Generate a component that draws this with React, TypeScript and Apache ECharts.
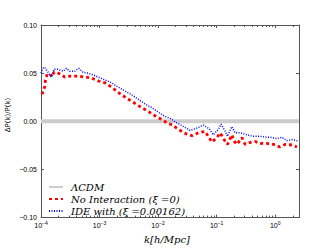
import React, { useEffect, useRef } from "react";
import * as echarts from "echarts";

const redK = [1.04e-4, 1.16e-4, 1.19e-4, 1.28e-4, 1.43e-4, 1.54e-4, 1.67e-4, 1.95e-4, 2.17e-4, 2.54e-4, 3.22e-4, 4.18e-4, 5.58e-4, 7.24e-4, 9.42e-4, 1.23e-3, 1.55e-3, 1.91e-3, 2.3e-3, 2.92e-3, 3.7e-3, 4.68e-3, 5.83e-3, 7.3e-3, 9.24e-3, 1.16e-2, 1.41e-2, 1.78e-2, 2.07e-2, 2.38e-2, 3.01e-2, 3.77e-2, 4.89e-2, 6.36e-2, 7.24e-2, 8.28e-2, 0.101, 0.115, 0.134, 0.153, 0.182, 0.199, 0.221, 0.27, 0.307, 0.374, 0.455, 0.555, 0.721, 0.936, 1.19, 1.48, 1.93, 2.35];
const redV = [0.028, 0.036, 0.043, 0.049, 0.049, 0.046, 0.051, 0.05, 0.049, 0.046, 0.047, 0.047, 0.046, 0.045, 0.042, 0.04, 0.036, 0.032, 0.028, 0.024, 0.02, 0.016, 0.0126, 0.009, 0.005, 0.0018, -0.0015, -0.004, -0.007, -0.0095, -0.013, -0.015, -0.012, -0.0105, -0.016, -0.0216, -0.017, -0.012, -0.019, -0.024, -0.014, -0.0206, -0.024, -0.017, -0.024, -0.022, -0.021, -0.023, -0.023, -0.024, -0.0266, -0.024, -0.0246, -0.0266];

const blueK = [1.0e-4, 1.08e-4, 1.16e-4, 1.32e-4, 1.5e-4, 1.67e-4, 1.95e-4, 2.38e-4, 2.71e-4, 3.1e-4, 3.77e-4, 4.41e-4, 5.22e-4, 7.24e-4, 9.42e-4, 1.23e-3, 1.59e-3, 2.01e-3, 2.62e-3, 3.45e-3, 4.55e-3, 6.0e-3, 7.89e-3, 1.04e-2, 1.32e-2, 1.6e-2, 2.09e-2, 2.71e-2, 3.52e-2, 4.59e-2, 5.95e-2, 7.53e-2, 8.81e-2, 0.105, 0.119, 0.14, 0.153, 0.182, 0.207, 0.252, 0.328, 0.426, 0.555, 0.721, 0.822, 1.07, 1.3, 1.58, 1.93, 2.5];
const blueV = [0.05, 0.055, 0.056, 0.051, 0.046, 0.054, 0.054, 0.052, 0.055, 0.052, 0.052, 0.055, 0.051, 0.049, 0.046, 0.043, 0.04, 0.036, 0.032, 0.028, 0.023, 0.018, 0.014, 0.009, 0.005, 0.003, -0.0015, -0.0055, -0.0095, -0.007, -0.004, -0.008, -0.014, -0.009, -0.003, -0.0105, -0.0156, -0.0055, -0.012, -0.012, -0.014, -0.0156, -0.0156, -0.0166, -0.0166, -0.018, -0.0166, -0.02, -0.019, -0.0206];

const lcdmK = [1e-4, 2.55];
const lcdmV = [0, 0];

const seriesNames = ["ΛCDM", "No Interaction (ξ =0)", "IDE with (ξ =0.00162)"];
const yAxisTitle = "ΔP(k)/P(k)";
const xMin = 1e-4;
const xMax = 2.55;

const supMap: Record<string, string> = { "-4": "−4", "-3": "−3", "-2": "−2", "-1": "−1", "0": "0" };

export default function App() {
  const ref = useRef<HTMLDivElement>(null);
  useEffect(() => {
    if (!ref.current) return;
    const chart = echarts.init(ref.current, undefined, { renderer: "svg" });
    const axisColor = "#555";
    const zip = (a: number[], b: number[]) => a.map((k, i) => [k, b[i]]);
    chart.setOption({
      animation: false,
      grid: { left: 41, right: 33, top: 25, bottom: 25 },
      graphic: [
        {
          type: "text",
          x: 8,
          y: 115,
          rotation: Math.PI / 2,
          style: {
            text: yAxisTitle,
            fontFamily: "DejaVu Sans",
            fontSize: 7,
            fill: "#000",
            align: "center",
            verticalAlign: "middle",
          },
        },
      ],
      legend: {
        left: 43,
        top: 177,
        orient: "vertical",
        itemWidth: 14,
        itemHeight: 6,
        itemGap: 2,
        data: seriesNames,
        itemStyle: { opacity: 0 },
        textStyle: { fontFamily: "DejaVu Serif", fontStyle: "italic", fontSize: 10, color: "#000", padding: [0, 0, 0, 3] },
      },
      xAxis: [
        {
          type: "log",
          min: xMin,
          max: xMax,
          logBase: 10,
          name: "k[h/Mpc]",
          nameLocation: "middle",
          nameGap: 14,
          nameTextStyle: { fontFamily: "DejaVu Serif", fontStyle: "italic", fontSize: 10, color: "#000", padding: [0, 6, 0, 0] },
          axisLine: { onZero: false, lineStyle: { color: axisColor, width: 1 } },
          axisTick: { inside: true, length: 3, lineStyle: { color: axisColor } },
          minorTick: { show: true, splitNumber: 9, length: 2, lineStyle: { color: axisColor } },
          splitLine: { show: false },
          axisLabel: {
            fontSize: 7,
            color: "#000",
            margin: 3,
            showMaxLabel: false,
            formatter: (v: number) => {
              const e = Math.round(Math.log10(v));
              return "10{s|" + (supMap[String(e)] ?? String(e)) + "}";
            },
            rich: { s: { fontSize: 5, verticalAlign: "bottom", padding: [0, 0, 5, 0] } },
          },
        },
        {
          type: "log",
          min: xMin,
          max: xMax,
          position: "top",
          axisLine: { onZero: false, lineStyle: { color: axisColor } },
          axisTick: { inside: true, length: 3, lineStyle: { color: axisColor } },
          minorTick: { show: true, splitNumber: 9, length: 2, lineStyle: { color: axisColor } },
          axisLabel: { show: false },
          splitLine: { show: false },
        },
      ],
      yAxis: [
        {
          type: "value",
          min: -0.1,
          max: 0.1,
          interval: 0.05,
          axisLine: { show: true, onZero: false, lineStyle: { color: axisColor } },
          axisTick: { show: true, inside: true, length: 3, lineStyle: { color: axisColor } },
          axisLabel: { fontSize: 7, color: "#000", margin: 4, formatter: (v: number) => (v < 0 ? "−" : "") + Math.abs(v).toFixed(2) },
          splitLine: { show: false },
        },
        {
          type: "value",
          min: -0.1,
          max: 0.1,
          interval: 0.05,
          position: "right",
          axisLine: { show: true, onZero: false, lineStyle: { color: axisColor } },
          axisTick: { show: true, inside: true, length: 3, lineStyle: { color: axisColor } },
          axisLabel: { show: false },
          splitLine: { show: false },
        },
      ],
      series: [
        {
          name: seriesNames[0],
          type: "line",
          symbol: "none",
          data: zip(lcdmK, lcdmV),
          lineStyle: { color: "#cccccc", width: 4 },
          itemStyle: { color: "#cccccc" },
          z: 1,
        },
        {
          name: seriesNames[1],
          type: "line",
          symbol: "none",
          data: zip(redK, redV),
          lineStyle: { color: "#ff0000", width: 2.8, type: [3, 3] },
          itemStyle: { color: "#ff0000" },
          z: 2,
        },
        {
          name: seriesNames[2],
          type: "line",
          symbol: "none",
          data: zip(blueK, blueV),
          lineStyle: { color: "#0000ff", width: 1.5, type: [1, 1.5] },
          itemStyle: { color: "#0000ff" },
          z: 3,
        },
      ],
    });
    return () => chart.dispose();
  }, []);
  return <div ref={ref} style={{ width: 332, height: 249, position: "absolute", left: 0, top: 0 }} />;
}
